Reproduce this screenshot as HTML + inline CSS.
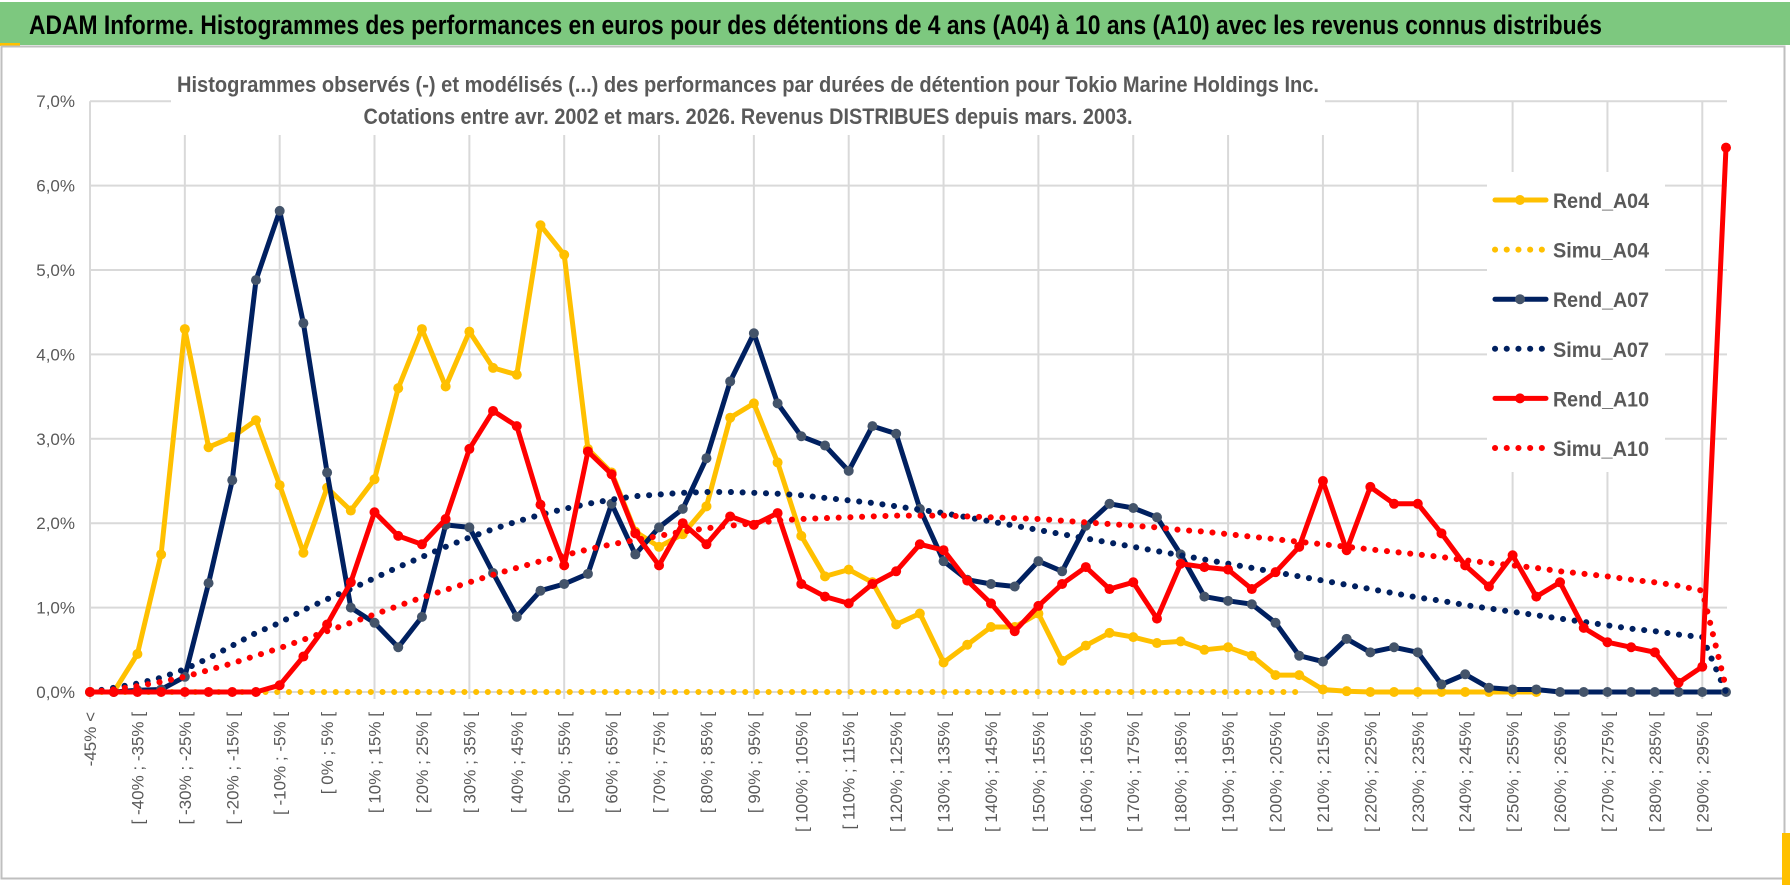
<!DOCTYPE html>
<html><head><meta charset="utf-8">
<style>
html,body{margin:0;padding:0;background:#fff;}
svg{display:block;}
text{font-family:"Liberation Sans",sans-serif;}
</style></head>
<body>
<svg id="chart" width="1790" height="888" viewBox="0 0 1790 888" xmlns="http://www.w3.org/2000/svg">
  <rect x="0" y="0" width="1790" height="888" fill="#ffffff"/>
  <rect x="0" y="2" width="1790" height="43" fill="#7dc87f"/>
  <rect x="0" y="43" width="20" height="3" fill="#ffc000"/>
  <text x="29" y="34" font-size="27" font-weight="bold" fill="#000" textLength="1573" lengthAdjust="spacingAndGlyphs">ADAM Informe. Histogrammes des performances en euros pour des détentions de 4 ans (A04) à 10 ans (A10) avec les revenus connus distribués</text>
  <rect x="1.5" y="46.5" width="1783" height="832" fill="none" stroke="#bfbfbf" stroke-width="2"/>
  <rect x="1782" y="833" width="8" height="52" fill="#ffc000"/>
  <g id="grid"></g>
  <rect x="171" y="60" width="1154" height="75" fill="#fff"/>
  <text x="748" y="92" font-size="22" font-weight="bold" fill="#595959" text-anchor="middle" textLength="1142" lengthAdjust="spacingAndGlyphs">Histogrammes observés (-) et modélisés (...) des performances par durées de détention pour Tokio Marine Holdings Inc.</text>
  <text x="748" y="124" font-size="22" font-weight="bold" fill="#595959" text-anchor="middle" textLength="769" lengthAdjust="spacingAndGlyphs">Cotations entre avr. 2002 et mars. 2026.  Revenus DISTRIBUES depuis mars. 2003.</text>
  <g id="yticks"></g>
  <g id="xticks"></g>
  <g id="series"></g>
  <g id="legend"></g>
</svg>
<script>
const categories = ["-45% <","[ -45% ; -40% [","[ -40% ; -35% [","[ -35% ; -30% [","[ -30% ; -25% [","[ -25% ; -20% [","[ -20% ; -15% [","[ -15% ; -10% [","[ -10% ; -5% [","[ -5% ; 0% [",
"[ 0% ; 5% [","[ 5% ; 10% [","[ 10% ; 15% [","[ 15% ; 20% [","[ 20% ; 25% [","[ 25% ; 30% [","[ 30% ; 35% [","[ 35% ; 40% [","[ 40% ; 45% [","[ 45% ; 50% [",
"[ 50% ; 55% [","[ 55% ; 60% [","[ 60% ; 65% [","[ 65% ; 70% [","[ 70% ; 75% [","[ 75% ; 80% [","[ 80% ; 85% [","[ 85% ; 90% [","[ 90% ; 95% [","[ 95% ; 100% [",
"[ 100% ; 105% [","[ 105% ; 110% [","[ 110% ; 115% [","[ 115% ; 120% [","[ 120% ; 125% [","[ 125% ; 130% [","[ 130% ; 135% [","[ 135% ; 140% [","[ 140% ; 145% [","[ 145% ; 150% [",
"[ 150% ; 155% [","[ 155% ; 160% [","[ 160% ; 165% [","[ 165% ; 170% [","[ 170% ; 175% [","[ 175% ; 180% [","[ 180% ; 185% [","[ 185% ; 190% [","[ 190% ; 195% [","[ 195% ; 200% [",
"[ 200% ; 205% [","[ 205% ; 210% [","[ 210% ; 215% [","[ 215% ; 220% [","[ 220% ; 225% [","[ 225% ; 230% [","[ 230% ; 235% [","[ 235% ; 240% [","[ 240% ; 245% [","[ 245% ; 250% [",
"[ 250% ; 255% [","[ 255% ; 260% [","[ 260% ; 265% [","[ 265% ; 270% [","[ 270% ; 275% [","[ 275% ; 280% [","[ 280% ; 285% [","[ 285% ; 290% [","[ 290% ; 295% [","[ 295% ; 300% ["];
const yTicks = [0,1,2,3,4,5,6,7];
const yTickLabels = ["0,0%","1,0%","2,0%","3,0%","4,0%","5,0%","6,0%","7,0%"];
const rendA04 = [0,0,0.45,1.63,4.3,2.9,3.02,3.22,2.45,1.65,2.42,2.15,2.52,3.6,4.3,3.62,4.27,3.84,3.76,5.53,
5.18,2.88,2.6,1.9,1.72,1.87,2.2,3.25,3.42,2.72,1.85,1.37,1.45,1.3,0.8,0.93,0.35,0.56,0.77,0.77,
0.93,0.37,0.55,0.7,0.65,0.58,0.6,0.5,0.53,0.43,0.2,0.2,0.03,0.01,0,0,0,0,0,0,0,0,null,null,null,null,null,null,null,null];
const simuA04 = [0,0,0,0,0,0,0,0,0,0,0,0,0,0,0,0,0,0,0,0,0,0,0,0,0,0,0,0,0,0,0,0,0,0,0,0,0,0,0,0,0,0,0,0,0,0,0,0,0,0,0,0,null,null,null,null,null,null,null,null,null,null,null,null,null,null,null,null,null,null];
const rendA07 = [0,0,0.02,0.03,0.18,1.29,2.51,4.88,5.7,4.37,2.6,1.0,0.82,0.53,0.89,1.98,1.95,1.41,0.89,1.2,
1.28,1.4,2.23,1.63,1.95,2.17,2.77,3.68,4.25,3.42,3.03,2.92,2.62,3.15,3.06,2.17,1.55,1.33,1.28,1.25,
1.55,1.43,1.97,2.23,2.18,2.07,1.63,1.13,1.08,1.04,0.82,0.43,0.36,0.63,0.47,0.53,0.47,0.09,0.21,0.05,
0.03,0.03,0,0,0,0,0,0,0,0];
const simuA07 = [0,0.05,0.1,0.17,0.27,0.4,0.55,0.7,0.82,0.97,1.1,1.22,1.35,1.48,1.6,1.72,1.83,1.93,2.02,2.1,
2.17,2.23,2.28,2.32,2.34,2.36,2.37,2.37,2.36,2.35,2.33,2.3,2.27,2.24,2.2,2.16,2.12,2.07,2.02,1.97,
1.92,1.87,1.82,1.77,1.72,1.67,1.62,1.57,1.52,1.47,1.42,1.37,1.32,1.27,1.22,1.17,1.12,1.08,1.03,0.99,
0.95,0.91,0.87,0.83,0.79,0.75,0.72,0.68,0.65,0];
const rendA10 = [0,0,0,0,0,0,0,0,0.08,0.42,0.8,1.3,2.13,1.85,1.75,2.05,2.88,3.33,3.15,2.22,
1.5,2.85,2.58,1.88,1.5,2.0,1.75,2.08,1.98,2.12,1.28,1.13,1.05,1.28,1.43,1.75,1.68,1.32,1.05,0.72,
1.02,1.28,1.48,1.22,1.3,0.87,1.52,1.48,1.45,1.22,1.42,1.72,2.5,1.68,2.43,2.23,2.23,1.88,1.5,1.25,
1.62,1.13,1.3,0.76,0.59,0.53,0.47,0.11,0.3,6.45];
const simuA10 = [0,0.03,0.07,0.12,0.18,0.26,0.34,0.43,0.52,0.62,0.72,0.82,0.92,1.02,1.12,1.21,1.3,1.39,1.47,1.55,
1.62,1.69,1.75,1.8,1.85,1.9,1.94,1.97,2.0,2.03,2.05,2.06,2.07,2.08,2.09,2.09,2.09,2.08,2.07,2.06,
2.05,2.03,2.01,1.99,1.97,1.95,1.92,1.9,1.87,1.84,1.81,1.78,1.75,1.72,1.69,1.66,1.63,1.6,1.56,1.53,
1.5,1.47,1.43,1.4,1.37,1.33,1.3,1.26,1.2,0.05];

const NS = "http://www.w3.org/2000/svg";
const X0 = 90, X1 = 1726, Y0 = 692, YTOP = 101.2, YMAX = 7;
function xScale(i){ return X0 + i * (X1 - X0) / (categories.length - 1); }
function yScale(v){ return Y0 - v * (Y0 - YTOP) / YMAX; }
function mk(tag, attrs, parent){
  const el = document.createElementNS(NS, tag);
  for (const k in attrs) el.setAttribute(k, attrs[k]);
  parent.appendChild(el);
  return el;
}
const grid = document.getElementById('grid');
yTicks.forEach(function(t){
  const l = mk('line', {x1: X0, x2: X1 + 1, y1: yScale(t), y2: yScale(t), stroke: '#d9d9d9', 'stroke-width': 2}, grid);
  
  
});
categories.forEach(function(c, i){
  if (i % 4 === 0) {
    const l = mk('line', {x1: xScale(i), x2: xScale(i), y1: YTOP, y2: Y0 + 7, stroke: '#d9d9d9', 'stroke-width': 2}, grid);
    
    
  }
});
const yt = document.getElementById('yticks');
yTicks.forEach(function(t, k){
  const tx = mk('text', {x: 75, y: yScale(t) + 6, 'font-size': 17, fill: '#595959', 'text-anchor': 'end'}, yt);
  tx.textContent = yTickLabels[k];
  
  
});
const xt = document.getElementById('xticks');
categories.forEach(function(c, i){
  if (i % 2 !== 0) return;
  const x = xScale(i) + 6;
  const tx = mk('text', {x: 0, y: 0, 'font-size': 17, fill: '#595959', 'text-anchor': 'end', transform: 'translate(' + x + ',712) rotate(-90)'}, xt);
  tx.textContent = c;
  
  
});
const sg = document.getElementById('series');
function pathFor(vals){
  let d = '', pen = false;
  vals.forEach(function(v, i){
    if (v === null) { pen = false; return; }
    d += (pen ? 'L' : 'M') + xScale(i).toFixed(1) + ' ' + yScale(v).toFixed(1) + ' ';
    pen = true;
  });
  return d;
}
function drawRend(vals, color, markerColor, name){
  const g = mk('g', {}, sg);
  
  
  const p = mk('path', {d: pathFor(vals), fill: 'none', stroke: color, 'stroke-width': 5, 'stroke-linejoin': 'round'}, g);
  
  
  vals.forEach(function(v, i){
    if (v === null) return;
    const c = mk('circle', {cx: xScale(i), cy: yScale(v), r: 5, fill: markerColor}, g);
    
    
  });
}
function drawSimu(vals, color, name){
  const p = mk('path', {d: pathFor(vals), fill: 'none', stroke: color, 'stroke-width': 6, 'stroke-linecap': 'round', 'stroke-dasharray': '0.1 11.6'}, sg);
  
  
}
drawRend(rendA04, '#ffc000', '#ffc000', 'rend-a04');
drawSimu(simuA04, '#ffc000', 'simu-a04');
drawRend(rendA07, '#002060', '#44546a', 'rend-a07');
drawSimu(simuA07, '#002060', 'simu-a07');
drawRend(rendA10, '#ff0000', '#ff0000', 'rend-a10');
drawSimu(simuA10, '#ff0000', 'simu-a10');

const lg = document.getElementById('legend');
const bg = mk('rect', {x: 1487, y: 172, width: 178, height: 300, fill: '#fff'}, lg);


const legendNames = ['Rend_A04','Simu_A04','Rend_A07','Simu_A07','Rend_A10','Simu_A10'];
const legendColors = ['#ffc000','#ffc000','#002060','#002060','#ff0000','#ff0000'];
const legendMarkers = ['#ffc000',null,'#44546a',null,'#ff0000',null];
legendNames.forEach(function(n, k){
  const y = 200 + k * 49.6;
  const g = mk('g', {}, lg);
  
  
  if (legendMarkers[k]) {
    mk('line', {x1: 1495, x2: 1546, y1: y, y2: y, stroke: legendColors[k], 'stroke-width': 5, 'stroke-linecap': 'round'}, g);
    mk('circle', {cx: 1520, cy: y, r: 5, fill: legendMarkers[k]}, g);
  } else {
    mk('line', {x1: 1495, x2: 1546, y1: y, y2: y, stroke: legendColors[k], 'stroke-width': 6, 'stroke-linecap': 'round', 'stroke-dasharray': '0.1 11.6'}, g);
  }
  const t = mk('text', {x: 1553, y: y + 8, 'font-size': 21, 'font-weight': 'bold', fill: '#595959', textLength: 96, lengthAdjust: 'spacingAndGlyphs'}, g);
  t.textContent = n;
});
</script>
</body></html>
